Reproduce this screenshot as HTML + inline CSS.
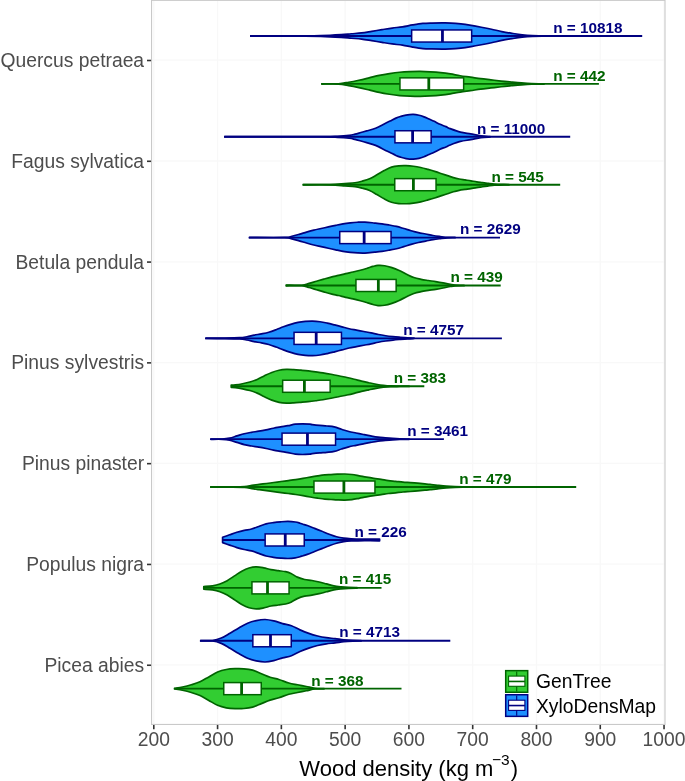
<!DOCTYPE html>
<html><head><meta charset="utf-8"><style>
html,body{margin:0;padding:0;background:#fff;}
svg{display:block;}
text{font-family:"Liberation Sans",Arial,sans-serif;}
.ax{font-size:19.3px;fill:#4d4d4d;}
.n{font-size:15.4px;font-weight:bold;}
.tt{font-size:22px;fill:#000;}
.lg{font-size:19.3px;fill:#000;}
</style></head><body>
<svg width="685" height="781" viewBox="0 0 685 781">
<rect width="685" height="781" fill="#fff"/>
<line x1="153.80" y1="0.35" x2="153.80" y2="724.45" stroke="#f8f8f8" stroke-width="1.3"/>
<line x1="217.58" y1="0.35" x2="217.58" y2="724.45" stroke="#f8f8f8" stroke-width="1.3"/>
<line x1="281.36" y1="0.35" x2="281.36" y2="724.45" stroke="#f8f8f8" stroke-width="1.3"/>
<line x1="345.14" y1="0.35" x2="345.14" y2="724.45" stroke="#f8f8f8" stroke-width="1.3"/>
<line x1="408.92" y1="0.35" x2="408.92" y2="724.45" stroke="#f8f8f8" stroke-width="1.3"/>
<line x1="472.70" y1="0.35" x2="472.70" y2="724.45" stroke="#f8f8f8" stroke-width="1.3"/>
<line x1="536.48" y1="0.35" x2="536.48" y2="724.45" stroke="#f8f8f8" stroke-width="1.3"/>
<line x1="600.26" y1="0.35" x2="600.26" y2="724.45" stroke="#f8f8f8" stroke-width="1.3"/>
<line x1="664.04" y1="0.35" x2="664.04" y2="724.45" stroke="#f8f8f8" stroke-width="1.3"/>
<line x1="151.55" y1="60.20" x2="665.00" y2="60.20" stroke="#f8f8f8" stroke-width="1.3"/>
<line x1="151.55" y1="160.99" x2="665.00" y2="160.99" stroke="#f8f8f8" stroke-width="1.3"/>
<line x1="151.55" y1="261.78" x2="665.00" y2="261.78" stroke="#f8f8f8" stroke-width="1.3"/>
<line x1="151.55" y1="362.57" x2="665.00" y2="362.57" stroke="#f8f8f8" stroke-width="1.3"/>
<line x1="151.55" y1="463.36" x2="665.00" y2="463.36" stroke="#f8f8f8" stroke-width="1.3"/>
<line x1="151.55" y1="564.15" x2="665.00" y2="564.15" stroke="#f8f8f8" stroke-width="1.3"/>
<line x1="151.55" y1="664.94" x2="665.00" y2="664.94" stroke="#f8f8f8" stroke-width="1.3"/>
<path d="M250.90,35.85 C259.08,35.85 288.37,35.88 300.00,35.85 C311.63,35.82 313.85,35.85 320.70,35.65 C327.55,35.45 336.00,34.97 341.10,34.65 C346.20,34.33 347.90,34.03 351.30,33.75 C354.70,33.47 358.10,33.35 361.50,32.95 C364.90,32.55 368.28,31.90 371.70,31.35 C375.12,30.80 378.58,30.20 382.00,29.65 C385.42,29.10 388.80,28.52 392.20,28.05 C395.60,27.58 399.00,27.37 402.40,26.85 C405.80,26.33 409.20,25.52 412.60,24.95 C416.00,24.38 419.57,23.77 422.80,23.45 C426.03,23.13 428.80,23.13 432.00,23.05 C435.20,22.97 438.83,22.95 442.00,22.95 C445.17,22.95 447.85,22.88 451.00,23.05 C454.15,23.22 457.55,23.55 460.90,23.95 C464.25,24.35 467.70,24.90 471.10,25.45 C474.50,26.00 477.90,26.62 481.30,27.25 C484.70,27.88 488.08,28.53 491.50,29.25 C494.92,29.97 498.38,30.87 501.80,31.55 C505.22,32.23 508.60,32.80 512.00,33.35 C515.40,33.90 518.80,34.47 522.20,34.85 C525.60,35.23 528.75,35.48 532.40,35.65 C536.05,35.82 542.15,35.82 544.10,35.85 L544.10,36.15 C542.15,36.18 536.05,36.18 532.40,36.35 C528.75,36.52 525.60,36.77 522.20,37.15 C518.80,37.53 515.40,38.10 512.00,38.65 C508.60,39.20 505.22,39.77 501.80,40.45 C498.38,41.13 494.92,42.03 491.50,42.75 C488.08,43.47 484.70,44.12 481.30,44.75 C477.90,45.38 474.50,46.00 471.10,46.55 C467.70,47.10 464.25,47.65 460.90,48.05 C457.55,48.45 454.15,48.78 451.00,48.95 C447.85,49.12 445.17,49.05 442.00,49.05 C438.83,49.05 435.20,49.03 432.00,48.95 C428.80,48.87 426.03,48.87 422.80,48.55 C419.57,48.23 416.00,47.62 412.60,47.05 C409.20,46.48 405.80,45.67 402.40,45.15 C399.00,44.63 395.60,44.42 392.20,43.95 C388.80,43.48 385.42,42.90 382.00,42.35 C378.58,41.80 375.12,41.20 371.70,40.65 C368.28,40.10 364.90,39.45 361.50,39.05 C358.10,38.65 354.70,38.53 351.30,38.25 C347.90,37.97 346.20,37.67 341.10,37.35 C336.00,37.03 327.55,36.55 320.70,36.35 C313.85,36.15 311.63,36.18 300.00,36.15 C288.37,36.12 259.08,36.15 250.90,36.15 Z" fill="#1E90FF" stroke="#000080" stroke-width="1.70" stroke-linejoin="round"/>
<line x1="250.00" y1="36.00" x2="642.20" y2="36.00" stroke="#000080" stroke-width="1.9"/>
<rect x="411.65" y="29.95" width="60.00" height="12.10" fill="#fff" stroke="#000080" stroke-width="1.50"/>
<line x1="442.45" y1="29.95" x2="442.45" y2="42.05" stroke="#000080" stroke-width="2.8"/>
<text transform="translate(553.20,32.60) scale(0.994,1)" class="n" fill="#000080">n = 10818</text>
<path d="M322.00,83.75 C324.73,83.75 333.95,84.00 338.40,83.75 C342.85,83.50 345.28,82.83 348.70,82.25 C352.12,81.67 355.50,80.98 358.90,80.25 C362.30,79.52 365.70,78.67 369.10,77.85 C372.50,77.03 375.90,76.07 379.30,75.35 C382.70,74.63 386.10,74.07 389.50,73.55 C392.90,73.03 396.28,72.57 399.70,72.25 C403.12,71.93 406.58,71.78 410.00,71.65 C413.42,71.52 416.80,71.42 420.20,71.45 C423.60,71.48 427.00,71.65 430.40,71.85 C433.80,72.05 437.27,72.30 440.60,72.65 C443.93,73.00 447.13,73.43 450.40,73.95 C453.67,74.47 456.87,75.22 460.20,75.75 C463.53,76.28 466.98,76.67 470.40,77.15 C473.82,77.63 477.28,78.20 480.70,78.65 C484.12,79.10 487.50,79.45 490.90,79.85 C494.30,80.25 497.70,80.68 501.10,81.05 C504.50,81.42 507.90,81.73 511.30,82.05 C514.70,82.37 518.10,82.70 521.50,82.95 C524.90,83.20 527.93,83.42 531.70,83.55 C535.47,83.68 542.03,83.72 544.10,83.75 L544.10,84.05 C542.03,84.08 535.47,84.12 531.70,84.25 C527.93,84.38 524.90,84.60 521.50,84.85 C518.10,85.10 514.70,85.43 511.30,85.75 C507.90,86.07 504.50,86.38 501.10,86.75 C497.70,87.12 494.30,87.55 490.90,87.95 C487.50,88.35 484.12,88.70 480.70,89.15 C477.28,89.60 473.82,90.17 470.40,90.65 C466.98,91.13 463.53,91.52 460.20,92.05 C456.87,92.58 453.67,93.33 450.40,93.85 C447.13,94.37 443.93,94.80 440.60,95.15 C437.27,95.50 433.80,95.75 430.40,95.95 C427.00,96.15 423.60,96.32 420.20,96.35 C416.80,96.38 413.42,96.28 410.00,96.15 C406.58,96.02 403.12,95.87 399.70,95.55 C396.28,95.23 392.90,94.77 389.50,94.25 C386.10,93.73 382.70,93.17 379.30,92.45 C375.90,91.73 372.50,90.77 369.10,89.95 C365.70,89.13 362.30,88.28 358.90,87.55 C355.50,86.82 352.12,86.13 348.70,85.55 C345.28,84.97 342.85,84.30 338.40,84.05 C333.95,83.80 324.73,84.05 322.00,84.05 Z" fill="#32CD32" stroke="#006400" stroke-width="1.70" stroke-linejoin="round"/>
<line x1="321.10" y1="83.90" x2="598.90" y2="83.90" stroke="#006400" stroke-width="1.9"/>
<rect x="399.95" y="77.85" width="63.70" height="12.10" fill="#fff" stroke="#006400" stroke-width="1.50"/>
<line x1="428.80" y1="77.85" x2="428.80" y2="89.95" stroke="#006400" stroke-width="2.8"/>
<text transform="translate(553.20,81.00) scale(0.994,1)" class="n" fill="#006400">n = 442</text>
<path d="M224.90,136.64 C240.75,136.64 301.23,136.71 320.00,136.64 C338.77,136.57 332.63,136.46 337.50,136.24 C342.37,136.02 346.28,135.69 349.20,135.34 C352.12,134.99 353.05,134.61 355.00,134.14 C356.95,133.67 358.95,133.07 360.90,132.54 C362.85,132.01 364.75,131.49 366.70,130.94 C368.65,130.39 370.65,129.91 372.60,129.24 C374.55,128.57 376.47,127.82 378.40,126.94 C380.33,126.06 382.25,124.92 384.20,123.94 C386.15,122.96 388.15,122.01 390.10,121.04 C392.05,120.07 394.17,118.91 395.90,118.14 C397.63,117.37 398.82,116.96 400.50,116.44 C402.18,115.92 403.88,115.37 406.00,115.04 C408.12,114.71 411.03,114.41 413.20,114.44 C415.37,114.47 417.20,114.84 419.00,115.24 C420.80,115.64 422.33,116.21 424.00,116.84 C425.67,117.47 427.30,118.29 429.00,119.04 C430.70,119.79 432.37,120.46 434.20,121.34 C436.03,122.22 438.05,123.46 440.00,124.34 C441.95,125.22 444.20,125.92 445.90,126.64 C447.60,127.36 447.78,127.72 450.20,128.64 C452.62,129.56 456.98,131.26 460.40,132.14 C463.82,133.02 467.28,133.32 470.70,133.94 C474.12,134.56 477.67,135.39 480.90,135.84 C484.13,136.29 488.57,136.51 490.10,136.64 L490.10,136.94 C488.57,137.07 484.13,137.29 480.90,137.74 C477.67,138.19 474.12,139.02 470.70,139.64 C467.28,140.26 463.82,140.56 460.40,141.44 C456.98,142.32 452.62,144.02 450.20,144.94 C447.78,145.86 447.60,146.22 445.90,146.94 C444.20,147.66 441.95,148.36 440.00,149.24 C438.05,150.12 436.03,151.36 434.20,152.24 C432.37,153.12 430.70,153.79 429.00,154.54 C427.30,155.29 425.67,156.11 424.00,156.74 C422.33,157.37 420.80,157.94 419.00,158.34 C417.20,158.74 415.37,159.11 413.20,159.14 C411.03,159.17 408.12,158.87 406.00,158.54 C403.88,158.21 402.18,157.66 400.50,157.14 C398.82,156.62 397.63,156.21 395.90,155.44 C394.17,154.67 392.05,153.51 390.10,152.54 C388.15,151.57 386.15,150.62 384.20,149.64 C382.25,148.66 380.33,147.52 378.40,146.64 C376.47,145.76 374.55,145.01 372.60,144.34 C370.65,143.67 368.65,143.19 366.70,142.64 C364.75,142.09 362.85,141.57 360.90,141.04 C358.95,140.51 356.95,139.91 355.00,139.44 C353.05,138.97 352.12,138.59 349.20,138.24 C346.28,137.89 342.37,137.56 337.50,137.34 C332.63,137.12 338.77,137.01 320.00,136.94 C301.23,136.87 240.75,136.94 224.90,136.94 Z" fill="#1E90FF" stroke="#000080" stroke-width="1.70" stroke-linejoin="round"/>
<line x1="224.00" y1="136.79" x2="570.20" y2="136.79" stroke="#000080" stroke-width="1.9"/>
<rect x="394.95" y="130.74" width="36.20" height="12.10" fill="#fff" stroke="#000080" stroke-width="1.50"/>
<line x1="412.60" y1="130.74" x2="412.60" y2="142.84" stroke="#000080" stroke-width="2.8"/>
<text transform="translate(476.90,133.75) scale(0.994,1)" class="n" fill="#000080">n = 11000</text>
<path d="M303.40,184.54 C307.83,184.54 323.07,184.71 330.00,184.54 C336.93,184.37 340.83,183.84 345.00,183.54 C349.17,183.24 352.12,183.14 355.00,182.74 C357.88,182.34 359.87,181.79 362.30,181.14 C364.73,180.49 367.17,179.89 369.60,178.84 C372.03,177.79 374.47,176.22 376.90,174.84 C379.33,173.46 381.77,171.82 384.20,170.54 C386.63,169.26 389.07,167.92 391.50,167.14 C393.93,166.36 396.37,166.09 398.80,165.84 C401.23,165.59 403.67,165.57 406.10,165.64 C408.53,165.71 410.97,165.92 413.40,166.24 C415.83,166.56 418.27,167.01 420.70,167.54 C423.13,168.07 425.53,168.76 428.00,169.44 C430.47,170.12 433.22,170.92 435.50,171.64 C437.78,172.36 439.70,173.07 441.70,173.74 C443.70,174.41 445.55,174.99 447.50,175.64 C449.45,176.29 451.45,177.07 453.40,177.64 C455.35,178.21 457.27,178.66 459.20,179.04 C461.13,179.42 463.05,179.64 465.00,179.94 C466.95,180.24 468.95,180.52 470.90,180.84 C472.85,181.16 474.75,181.54 476.70,181.84 C478.65,182.14 480.65,182.37 482.60,182.64 C484.55,182.91 486.47,183.19 488.40,183.44 C490.33,183.69 492.27,183.99 494.20,184.14 C496.13,184.29 497.52,184.27 500.00,184.34 C502.48,184.41 507.58,184.51 509.10,184.54 L509.10,184.84 C507.58,184.87 502.48,184.97 500.00,185.04 C497.52,185.11 496.13,185.09 494.20,185.24 C492.27,185.39 490.33,185.69 488.40,185.94 C486.47,186.19 484.55,186.47 482.60,186.74 C480.65,187.01 478.65,187.24 476.70,187.54 C474.75,187.84 472.85,188.22 470.90,188.54 C468.95,188.86 466.95,189.14 465.00,189.44 C463.05,189.74 461.13,189.96 459.20,190.34 C457.27,190.72 455.35,191.17 453.40,191.74 C451.45,192.31 449.45,193.09 447.50,193.74 C445.55,194.39 443.70,194.97 441.70,195.64 C439.70,196.31 437.78,197.02 435.50,197.74 C433.22,198.46 430.47,199.26 428.00,199.94 C425.53,200.62 423.13,201.31 420.70,201.84 C418.27,202.37 415.83,202.82 413.40,203.14 C410.97,203.46 408.53,203.67 406.10,203.74 C403.67,203.81 401.23,203.79 398.80,203.54 C396.37,203.29 393.93,203.02 391.50,202.24 C389.07,201.46 386.63,200.12 384.20,198.84 C381.77,197.56 379.33,195.92 376.90,194.54 C374.47,193.16 372.03,191.59 369.60,190.54 C367.17,189.49 364.73,188.89 362.30,188.24 C359.87,187.59 357.88,187.04 355.00,186.64 C352.12,186.24 349.17,186.14 345.00,185.84 C340.83,185.54 336.93,185.01 330.00,184.84 C323.07,184.67 307.83,184.84 303.40,184.84 Z" fill="#32CD32" stroke="#006400" stroke-width="1.70" stroke-linejoin="round"/>
<line x1="302.50" y1="184.69" x2="560.20" y2="184.69" stroke="#006400" stroke-width="1.9"/>
<rect x="394.75" y="178.64" width="41.30" height="12.10" fill="#fff" stroke="#006400" stroke-width="1.50"/>
<line x1="413.40" y1="178.64" x2="413.40" y2="190.74" stroke="#006400" stroke-width="2.8"/>
<text transform="translate(491.40,182.10) scale(0.994,1)" class="n" fill="#006400">n = 545</text>
<path d="M249.60,237.43 C255.43,237.43 277.55,237.63 284.60,237.43 C291.65,237.23 289.47,236.75 291.90,236.23 C294.33,235.71 296.77,235.01 299.20,234.33 C301.63,233.65 304.07,232.83 306.50,232.13 C308.93,231.43 311.37,230.73 313.80,230.13 C316.23,229.53 318.67,229.06 321.10,228.53 C323.53,228.00 325.97,227.46 328.40,226.93 C330.83,226.40 333.27,225.85 335.70,225.33 C338.13,224.81 340.57,224.25 343.00,223.83 C345.43,223.41 347.87,223.10 350.30,222.83 C352.73,222.56 355.17,222.35 357.60,222.23 C360.03,222.11 362.07,222.00 364.90,222.13 C367.73,222.26 371.77,222.75 374.60,223.03 C377.43,223.31 379.47,223.50 381.90,223.83 C384.33,224.16 386.77,224.60 389.20,225.03 C391.63,225.46 394.07,225.85 396.50,226.43 C398.93,227.01 401.37,227.81 403.80,228.53 C406.23,229.25 408.67,230.05 411.10,230.73 C413.53,231.41 415.97,232.08 418.40,232.63 C420.83,233.18 423.27,233.55 425.70,234.03 C428.13,234.51 430.57,235.11 433.00,235.53 C435.43,235.95 437.87,236.23 440.30,236.53 C442.73,236.83 445.13,237.18 447.60,237.33 C450.07,237.48 453.85,237.41 455.10,237.43 L455.10,237.73 C453.85,237.75 450.07,237.68 447.60,237.83 C445.13,237.98 442.73,238.33 440.30,238.63 C437.87,238.93 435.43,239.21 433.00,239.63 C430.57,240.05 428.13,240.65 425.70,241.13 C423.27,241.61 420.83,241.98 418.40,242.53 C415.97,243.08 413.53,243.75 411.10,244.43 C408.67,245.11 406.23,245.91 403.80,246.63 C401.37,247.35 398.93,248.15 396.50,248.73 C394.07,249.31 391.63,249.70 389.20,250.13 C386.77,250.56 384.33,251.00 381.90,251.33 C379.47,251.66 377.43,251.85 374.60,252.13 C371.77,252.41 367.73,252.90 364.90,253.03 C362.07,253.16 360.03,253.05 357.60,252.93 C355.17,252.81 352.73,252.60 350.30,252.33 C347.87,252.06 345.43,251.75 343.00,251.33 C340.57,250.91 338.13,250.35 335.70,249.83 C333.27,249.31 330.83,248.76 328.40,248.23 C325.97,247.70 323.53,247.16 321.10,246.63 C318.67,246.10 316.23,245.63 313.80,245.03 C311.37,244.43 308.93,243.73 306.50,243.03 C304.07,242.33 301.63,241.51 299.20,240.83 C296.77,240.15 294.33,239.45 291.90,238.93 C289.47,238.41 291.65,237.93 284.60,237.73 C277.55,237.53 255.43,237.73 249.60,237.73 Z" fill="#1E90FF" stroke="#000080" stroke-width="1.70" stroke-linejoin="round"/>
<line x1="248.70" y1="237.58" x2="500.00" y2="237.58" stroke="#000080" stroke-width="1.9"/>
<rect x="339.75" y="231.53" width="51.30" height="12.10" fill="#fff" stroke="#000080" stroke-width="1.50"/>
<line x1="364.15" y1="231.53" x2="364.15" y2="243.63" stroke="#000080" stroke-width="2.8"/>
<text transform="translate(460.00,234.10) scale(0.994,1)" class="n" fill="#000080">n = 2629</text>
<path d="M286.40,285.13 C288.98,285.16 298.10,285.61 301.90,285.33 C305.70,285.05 306.77,284.11 309.20,283.43 C311.63,282.75 314.07,281.95 316.50,281.23 C318.93,280.51 321.37,279.81 323.80,279.13 C326.23,278.45 328.67,277.75 331.10,277.13 C333.53,276.51 335.97,276.01 338.40,275.43 C340.83,274.85 343.27,274.20 345.70,273.63 C348.13,273.06 350.57,272.60 353.00,272.03 C355.43,271.46 357.87,270.88 360.30,270.23 C362.73,269.58 365.48,268.76 367.60,268.13 C369.72,267.50 371.27,266.88 373.00,266.43 C374.73,265.98 376.07,265.55 378.00,265.43 C379.93,265.31 382.28,265.36 384.60,265.73 C386.92,266.10 389.47,266.83 391.90,267.63 C394.33,268.43 396.77,269.43 399.20,270.53 C401.63,271.63 404.07,273.06 406.50,274.23 C408.93,275.40 411.37,276.68 413.80,277.53 C416.23,278.38 418.67,278.83 421.10,279.33 C423.53,279.83 425.97,280.15 428.40,280.53 C430.83,280.91 433.27,281.23 435.70,281.63 C438.13,282.03 440.57,282.46 443.00,282.93 C445.43,283.40 448.30,284.06 450.30,284.43 C452.30,284.80 452.70,284.98 455.00,285.13 C457.30,285.28 462.58,285.30 464.10,285.33 L464.10,285.63 C462.58,285.66 457.30,285.68 455.00,285.83 C452.70,285.98 452.30,286.16 450.30,286.53 C448.30,286.90 445.43,287.56 443.00,288.03 C440.57,288.50 438.13,288.93 435.70,289.33 C433.27,289.73 430.83,290.05 428.40,290.43 C425.97,290.81 423.53,291.13 421.10,291.63 C418.67,292.13 416.23,292.58 413.80,293.43 C411.37,294.28 408.93,295.56 406.50,296.73 C404.07,297.90 401.63,299.33 399.20,300.43 C396.77,301.53 394.33,302.53 391.90,303.33 C389.47,304.13 386.92,304.86 384.60,305.23 C382.28,305.60 379.93,305.65 378.00,305.53 C376.07,305.41 374.73,304.98 373.00,304.53 C371.27,304.08 369.72,303.46 367.60,302.83 C365.48,302.20 362.73,301.38 360.30,300.73 C357.87,300.08 355.43,299.50 353.00,298.93 C350.57,298.36 348.13,297.90 345.70,297.33 C343.27,296.76 340.83,296.11 338.40,295.53 C335.97,294.95 333.53,294.45 331.10,293.83 C328.67,293.21 326.23,292.51 323.80,291.83 C321.37,291.15 318.93,290.45 316.50,289.73 C314.07,289.01 311.63,288.21 309.20,287.53 C306.77,286.85 305.70,285.91 301.90,285.63 C298.10,285.35 288.98,285.80 286.40,285.83 Z" fill="#32CD32" stroke="#006400" stroke-width="1.70" stroke-linejoin="round"/>
<line x1="285.50" y1="285.48" x2="500.70" y2="285.48" stroke="#006400" stroke-width="1.9"/>
<rect x="355.95" y="279.43" width="40.20" height="12.10" fill="#fff" stroke="#006400" stroke-width="1.50"/>
<line x1="378.35" y1="279.43" x2="378.35" y2="291.53" stroke="#006400" stroke-width="2.8"/>
<text transform="translate(450.40,282.10) scale(0.994,1)" class="n" fill="#006400">n = 439</text>
<path d="M206.00,338.22 C209.17,338.20 219.40,338.20 225.00,338.12 C230.60,338.04 235.95,337.95 239.60,337.72 C243.25,337.49 244.47,337.15 246.90,336.72 C249.33,336.29 251.77,335.60 254.20,335.12 C256.63,334.64 259.07,334.30 261.50,333.82 C263.93,333.34 266.37,332.90 268.80,332.22 C271.23,331.54 273.67,330.62 276.10,329.72 C278.53,328.82 280.97,327.72 283.40,326.82 C285.83,325.92 288.27,325.05 290.70,324.32 C293.13,323.59 295.57,322.90 298.00,322.42 C300.43,321.94 302.87,321.64 305.30,321.42 C307.73,321.20 310.15,321.07 312.60,321.12 C315.05,321.17 317.55,321.39 320.00,321.72 C322.45,322.05 324.87,322.59 327.30,323.12 C329.73,323.65 332.17,324.30 334.60,324.92 C337.03,325.54 339.47,326.19 341.90,326.82 C344.33,327.45 346.77,328.17 349.20,328.72 C351.63,329.27 354.07,329.65 356.50,330.12 C358.93,330.59 361.37,331.05 363.80,331.52 C366.23,331.99 368.67,332.42 371.10,332.92 C373.53,333.42 375.97,334.05 378.40,334.52 C380.83,334.99 383.27,335.37 385.70,335.72 C388.13,336.07 390.57,336.35 393.00,336.62 C395.43,336.89 397.87,337.10 400.30,337.32 C402.73,337.54 405.30,337.77 407.60,337.92 C409.90,338.07 413.02,338.17 414.10,338.22 L414.10,338.52 C413.02,338.57 409.90,338.67 407.60,338.82 C405.30,338.97 402.73,339.20 400.30,339.42 C397.87,339.64 395.43,339.85 393.00,340.12 C390.57,340.39 388.13,340.67 385.70,341.02 C383.27,341.37 380.83,341.75 378.40,342.22 C375.97,342.69 373.53,343.32 371.10,343.82 C368.67,344.32 366.23,344.75 363.80,345.22 C361.37,345.69 358.93,346.15 356.50,346.62 C354.07,347.09 351.63,347.47 349.20,348.02 C346.77,348.57 344.33,349.29 341.90,349.92 C339.47,350.55 337.03,351.20 334.60,351.82 C332.17,352.44 329.73,353.09 327.30,353.62 C324.87,354.15 322.45,354.69 320.00,355.02 C317.55,355.35 315.05,355.57 312.60,355.62 C310.15,355.67 307.73,355.54 305.30,355.32 C302.87,355.10 300.43,354.80 298.00,354.32 C295.57,353.84 293.13,353.15 290.70,352.42 C288.27,351.69 285.83,350.82 283.40,349.92 C280.97,349.02 278.53,347.92 276.10,347.02 C273.67,346.12 271.23,345.20 268.80,344.52 C266.37,343.84 263.93,343.40 261.50,342.92 C259.07,342.44 256.63,342.10 254.20,341.62 C251.77,341.14 249.33,340.45 246.90,340.02 C244.47,339.59 243.25,339.25 239.60,339.02 C235.95,338.79 230.60,338.70 225.00,338.62 C219.40,338.54 209.17,338.54 206.00,338.52 Z" fill="#1E90FF" stroke="#000080" stroke-width="1.70" stroke-linejoin="round"/>
<line x1="205.10" y1="338.37" x2="501.90" y2="338.37" stroke="#000080" stroke-width="1.9"/>
<rect x="294.05" y="332.32" width="47.40" height="12.10" fill="#fff" stroke="#000080" stroke-width="1.50"/>
<line x1="316.20" y1="332.32" x2="316.20" y2="344.42" stroke="#000080" stroke-width="2.8"/>
<text transform="translate(403.20,335.10) scale(0.994,1)" class="n" fill="#000080">n = 4757</text>
<path d="M231.20,385.22 C231.88,385.17 233.40,385.17 235.30,384.92 C237.20,384.67 240.17,384.20 242.60,383.72 C245.03,383.24 247.47,382.74 249.90,382.02 C252.33,381.30 254.77,380.47 257.20,379.42 C259.63,378.37 262.07,376.89 264.50,375.72 C266.93,374.55 269.37,373.34 271.80,372.42 C274.23,371.50 276.67,370.72 279.10,370.22 C281.53,369.72 283.97,369.52 286.40,369.42 C288.83,369.32 291.27,369.49 293.70,369.62 C296.13,369.75 298.57,370.00 301.00,370.22 C303.43,370.44 305.87,370.65 308.30,370.92 C310.73,371.19 313.17,371.50 315.60,371.82 C318.03,372.14 320.12,372.37 322.90,372.82 C325.68,373.27 329.52,373.99 332.30,374.52 C335.08,375.05 337.17,375.52 339.60,376.02 C342.03,376.52 344.47,376.99 346.90,377.52 C349.33,378.05 351.77,378.62 354.20,379.22 C356.63,379.82 359.07,380.54 361.50,381.12 C363.93,381.70 366.37,382.20 368.80,382.72 C371.23,383.24 373.67,383.79 376.10,384.22 C378.53,384.65 380.97,385.04 383.40,385.32 C385.83,385.60 387.93,385.80 390.70,385.92 C393.47,386.04 396.93,385.99 400.00,386.02 C403.07,386.05 407.58,386.10 409.10,386.12 L409.10,386.42 C407.58,386.44 403.07,386.49 400.00,386.52 C396.93,386.55 393.47,386.50 390.70,386.62 C387.93,386.74 385.83,386.94 383.40,387.22 C380.97,387.50 378.53,387.89 376.10,388.32 C373.67,388.75 371.23,389.30 368.80,389.82 C366.37,390.34 363.93,390.84 361.50,391.42 C359.07,392.00 356.63,392.72 354.20,393.32 C351.77,393.92 349.33,394.49 346.90,395.02 C344.47,395.55 342.03,396.02 339.60,396.52 C337.17,397.02 335.08,397.49 332.30,398.02 C329.52,398.55 325.68,399.27 322.90,399.72 C320.12,400.17 318.03,400.40 315.60,400.72 C313.17,401.04 310.73,401.35 308.30,401.62 C305.87,401.89 303.43,402.10 301.00,402.32 C298.57,402.54 296.13,402.79 293.70,402.92 C291.27,403.05 288.83,403.22 286.40,403.12 C283.97,403.02 281.53,402.82 279.10,402.32 C276.67,401.82 274.23,401.04 271.80,400.12 C269.37,399.20 266.93,397.99 264.50,396.82 C262.07,395.65 259.63,394.17 257.20,393.12 C254.77,392.07 252.33,391.24 249.90,390.52 C247.47,389.80 245.03,389.30 242.60,388.82 C240.17,388.34 237.20,387.87 235.30,387.62 C233.40,387.37 231.88,387.37 231.20,387.32 Z" fill="#32CD32" stroke="#006400" stroke-width="1.70" stroke-linejoin="round"/>
<line x1="231.20" y1="386.27" x2="424.30" y2="386.27" stroke="#006400" stroke-width="1.9"/>
<rect x="282.65" y="380.22" width="47.50" height="12.10" fill="#fff" stroke="#006400" stroke-width="1.50"/>
<line x1="304.40" y1="380.22" x2="304.40" y2="392.32" stroke="#006400" stroke-width="2.8"/>
<text transform="translate(393.70,383.40) scale(0.994,1)" class="n" fill="#006400">n = 383</text>
<path d="M211.00,439.01 C212.88,439.01 219.20,439.16 222.30,439.01 C225.40,438.86 227.17,438.63 229.60,438.11 C232.03,437.59 234.47,436.64 236.90,435.91 C239.33,435.18 241.77,434.31 244.20,433.71 C246.63,433.11 249.07,432.73 251.50,432.31 C253.93,431.89 256.37,431.63 258.80,431.21 C261.23,430.79 263.67,430.31 266.10,429.81 C268.53,429.31 270.97,428.69 273.40,428.21 C275.83,427.73 278.27,427.33 280.70,426.91 C283.13,426.49 285.57,426.16 288.00,425.71 C290.43,425.26 292.87,424.53 295.30,424.21 C297.73,423.89 300.17,423.81 302.60,423.81 C305.03,423.81 308.28,424.08 309.90,424.21 C311.52,424.34 310.68,424.41 312.30,424.61 C313.92,424.81 317.17,425.18 319.60,425.41 C322.03,425.64 324.47,425.76 326.90,426.01 C329.33,426.26 331.77,426.36 334.20,426.91 C336.63,427.46 339.07,428.54 341.50,429.31 C343.93,430.08 346.37,430.89 348.80,431.51 C351.23,432.13 353.67,432.51 356.10,433.01 C358.53,433.51 360.97,434.03 363.40,434.51 C365.83,434.99 368.27,435.48 370.70,435.91 C373.13,436.34 375.57,436.79 378.00,437.11 C380.43,437.43 382.87,437.59 385.30,437.81 C387.73,438.03 390.17,438.24 392.60,438.41 C395.03,438.58 397.15,438.71 399.90,438.81 C402.65,438.91 407.57,438.98 409.10,439.01 L409.10,439.31 C407.57,439.34 402.65,439.41 399.90,439.51 C397.15,439.61 395.03,439.74 392.60,439.91 C390.17,440.08 387.73,440.29 385.30,440.51 C382.87,440.73 380.43,440.89 378.00,441.21 C375.57,441.53 373.13,441.98 370.70,442.41 C368.27,442.84 365.83,443.33 363.40,443.81 C360.97,444.29 358.53,444.81 356.10,445.31 C353.67,445.81 351.23,446.19 348.80,446.81 C346.37,447.43 343.93,448.24 341.50,449.01 C339.07,449.78 336.63,450.86 334.20,451.41 C331.77,451.96 329.33,452.06 326.90,452.31 C324.47,452.56 322.03,452.68 319.60,452.91 C317.17,453.14 313.92,453.51 312.30,453.71 C310.68,453.91 311.52,453.98 309.90,454.11 C308.28,454.24 305.03,454.51 302.60,454.51 C300.17,454.51 297.73,454.43 295.30,454.11 C292.87,453.79 290.43,453.06 288.00,452.61 C285.57,452.16 283.13,451.83 280.70,451.41 C278.27,450.99 275.83,450.59 273.40,450.11 C270.97,449.63 268.53,449.01 266.10,448.51 C263.67,448.01 261.23,447.53 258.80,447.11 C256.37,446.69 253.93,446.43 251.50,446.01 C249.07,445.59 246.63,445.21 244.20,444.61 C241.77,444.01 239.33,443.14 236.90,442.41 C234.47,441.68 232.03,440.73 229.60,440.21 C227.17,439.69 225.40,439.46 222.30,439.31 C219.20,439.16 212.88,439.31 211.00,439.31 Z" fill="#1E90FF" stroke="#000080" stroke-width="1.70" stroke-linejoin="round"/>
<line x1="210.10" y1="439.16" x2="443.90" y2="439.16" stroke="#000080" stroke-width="1.9"/>
<rect x="282.05" y="433.11" width="53.50" height="12.10" fill="#fff" stroke="#000080" stroke-width="1.50"/>
<line x1="307.45" y1="433.11" x2="307.45" y2="445.21" stroke="#000080" stroke-width="2.8"/>
<text transform="translate(407.20,435.90) scale(0.994,1)" class="n" fill="#000080">n = 3461</text>
<path d="M211.00,486.91 C214.17,486.91 224.40,486.96 230.00,486.91 C235.60,486.86 240.95,486.86 244.60,486.61 C248.25,486.36 249.47,485.78 251.90,485.41 C254.33,485.04 256.77,484.73 259.20,484.41 C261.63,484.09 264.07,483.83 266.50,483.51 C268.93,483.19 271.37,482.84 273.80,482.51 C276.23,482.18 278.67,481.83 281.10,481.51 C283.53,481.19 285.97,480.93 288.40,480.61 C290.83,480.29 293.27,479.98 295.70,479.61 C298.13,479.24 300.57,478.83 303.00,478.41 C305.43,477.99 307.87,477.53 310.30,477.11 C312.73,476.69 315.17,476.28 317.60,475.91 C320.03,475.54 322.67,475.13 324.90,474.91 C327.13,474.69 328.93,474.73 331.00,474.61 C333.07,474.49 335.03,474.31 337.30,474.21 C339.57,474.11 342.17,473.96 344.60,474.01 C347.03,474.06 349.47,474.21 351.90,474.51 C354.33,474.81 356.77,475.36 359.20,475.81 C361.63,476.26 364.07,476.78 366.50,477.21 C368.93,477.64 371.37,478.04 373.80,478.41 C376.23,478.78 378.67,479.04 381.10,479.41 C383.53,479.78 385.97,480.29 388.40,480.61 C390.83,480.93 393.27,481.06 395.70,481.31 C398.13,481.56 400.57,481.89 403.00,482.11 C405.43,482.33 407.87,482.43 410.30,482.61 C412.73,482.79 415.17,482.99 417.60,483.21 C420.03,483.43 422.83,483.71 424.90,483.91 C426.97,484.11 427.90,484.18 430.00,484.41 C432.10,484.64 434.78,485.01 437.50,485.31 C440.22,485.61 443.38,485.98 446.30,486.21 C449.22,486.44 452.03,486.59 455.00,486.71 C457.97,486.83 462.58,486.88 464.10,486.91 L464.10,487.21 C462.58,487.24 457.97,487.29 455.00,487.41 C452.03,487.53 449.22,487.68 446.30,487.91 C443.38,488.14 440.22,488.51 437.50,488.81 C434.78,489.11 432.10,489.48 430.00,489.71 C427.90,489.94 426.97,490.01 424.90,490.21 C422.83,490.41 420.03,490.69 417.60,490.91 C415.17,491.13 412.73,491.33 410.30,491.51 C407.87,491.69 405.43,491.79 403.00,492.01 C400.57,492.23 398.13,492.56 395.70,492.81 C393.27,493.06 390.83,493.19 388.40,493.51 C385.97,493.83 383.53,494.34 381.10,494.71 C378.67,495.08 376.23,495.34 373.80,495.71 C371.37,496.08 368.93,496.48 366.50,496.91 C364.07,497.34 361.63,497.86 359.20,498.31 C356.77,498.76 354.33,499.31 351.90,499.61 C349.47,499.91 347.03,500.06 344.60,500.11 C342.17,500.16 339.57,500.01 337.30,499.91 C335.03,499.81 333.07,499.63 331.00,499.51 C328.93,499.39 327.13,499.43 324.90,499.21 C322.67,498.99 320.03,498.58 317.60,498.21 C315.17,497.84 312.73,497.43 310.30,497.01 C307.87,496.59 305.43,496.13 303.00,495.71 C300.57,495.29 298.13,494.88 295.70,494.51 C293.27,494.14 290.83,493.83 288.40,493.51 C285.97,493.19 283.53,492.93 281.10,492.61 C278.67,492.29 276.23,491.94 273.80,491.61 C271.37,491.28 268.93,490.93 266.50,490.61 C264.07,490.29 261.63,490.03 259.20,489.71 C256.77,489.39 254.33,489.08 251.90,488.71 C249.47,488.34 248.25,487.76 244.60,487.51 C240.95,487.26 235.60,487.26 230.00,487.21 C224.40,487.16 214.17,487.21 211.00,487.21 Z" fill="#32CD32" stroke="#006400" stroke-width="1.70" stroke-linejoin="round"/>
<line x1="210.10" y1="487.06" x2="576.20" y2="487.06" stroke="#006400" stroke-width="1.9"/>
<rect x="313.95" y="481.01" width="61.00" height="12.10" fill="#fff" stroke="#006400" stroke-width="1.50"/>
<line x1="343.90" y1="481.01" x2="343.90" y2="493.11" stroke="#006400" stroke-width="2.8"/>
<text transform="translate(459.20,484.10) scale(0.994,1)" class="n" fill="#006400">n = 479</text>
<path d="M222.60,537.30 C223.77,536.88 227.22,535.63 229.60,534.80 C231.98,533.97 234.47,533.03 236.90,532.30 C239.33,531.57 241.77,530.95 244.20,530.40 C246.63,529.85 249.07,529.65 251.50,529.00 C253.93,528.35 256.37,527.35 258.80,526.50 C261.23,525.65 263.67,524.55 266.10,523.90 C268.53,523.25 270.97,522.95 273.40,522.60 C275.83,522.25 278.27,522.00 280.70,521.80 C283.13,521.60 285.57,521.37 288.00,521.40 C290.43,521.43 293.30,521.70 295.30,522.00 C297.30,522.30 298.72,522.83 300.00,523.20 C301.28,523.57 301.78,523.82 303.00,524.20 C304.22,524.58 305.37,524.80 307.30,525.50 C309.23,526.20 312.17,527.43 314.60,528.40 C317.03,529.37 319.47,530.33 321.90,531.30 C324.33,532.27 326.77,533.30 329.20,534.20 C331.63,535.10 334.07,536.03 336.50,536.70 C338.93,537.37 341.37,537.83 343.80,538.20 C346.23,538.57 348.73,538.75 351.10,538.90 C353.47,539.05 354.85,539.05 358.00,539.10 C361.15,539.15 366.40,539.20 370.00,539.20 C373.60,539.20 378.00,539.12 379.60,539.10 L379.60,540.80 C378.00,540.78 373.60,540.70 370.00,540.70 C366.40,540.70 361.15,540.75 358.00,540.80 C354.85,540.85 353.47,540.85 351.10,541.00 C348.73,541.15 346.23,541.33 343.80,541.70 C341.37,542.07 338.93,542.53 336.50,543.20 C334.07,543.87 331.63,544.80 329.20,545.70 C326.77,546.60 324.33,547.63 321.90,548.60 C319.47,549.57 317.03,550.53 314.60,551.50 C312.17,552.47 309.23,553.70 307.30,554.40 C305.37,555.10 304.22,555.32 303.00,555.70 C301.78,556.08 301.28,556.33 300.00,556.70 C298.72,557.07 297.30,557.60 295.30,557.90 C293.30,558.20 290.43,558.47 288.00,558.50 C285.57,558.53 283.13,558.30 280.70,558.10 C278.27,557.90 275.83,557.65 273.40,557.30 C270.97,556.95 268.53,556.65 266.10,556.00 C263.67,555.35 261.23,554.25 258.80,553.40 C256.37,552.55 253.93,551.55 251.50,550.90 C249.07,550.25 246.63,550.05 244.20,549.50 C241.77,548.95 239.33,548.33 236.90,547.60 C234.47,546.87 231.98,545.93 229.60,545.10 C227.22,544.27 223.77,543.02 222.60,542.60 Z" fill="#1E90FF" stroke="#000080" stroke-width="1.70" stroke-linejoin="round"/>
<line x1="222.60" y1="539.95" x2="379.70" y2="539.95" stroke="#000080" stroke-width="1.9"/>
<rect x="265.15" y="533.90" width="39.10" height="12.10" fill="#fff" stroke="#000080" stroke-width="1.50"/>
<line x1="285.25" y1="533.90" x2="285.25" y2="546.00" stroke="#000080" stroke-width="2.8"/>
<text transform="translate(354.40,536.90) scale(0.994,1)" class="n" fill="#000080">n = 226</text>
<path d="M203.80,586.50 C205.27,586.38 209.92,586.22 212.60,585.80 C215.28,585.38 217.47,584.85 219.90,584.00 C222.33,583.15 224.77,582.05 227.20,580.70 C229.63,579.35 232.07,577.48 234.50,575.90 C236.93,574.32 239.37,572.52 241.80,571.20 C244.23,569.88 246.67,568.73 249.10,568.00 C251.53,567.27 253.97,566.83 256.40,566.80 C258.83,566.77 261.27,567.32 263.70,567.80 C266.13,568.28 268.57,569.22 271.00,569.70 C273.43,570.18 275.87,570.37 278.30,570.70 C280.73,571.03 283.48,571.23 285.60,571.70 C287.72,572.17 289.05,572.60 291.00,573.50 C292.95,574.40 295.03,576.10 297.30,577.10 C299.57,578.10 302.17,578.93 304.60,579.50 C307.03,580.07 309.47,580.08 311.90,580.50 C314.33,580.92 316.77,581.43 319.20,582.00 C321.63,582.57 324.07,583.27 326.50,583.90 C328.93,584.53 331.37,585.32 333.80,585.80 C336.23,586.28 338.67,586.53 341.10,586.80 C343.53,587.07 345.73,587.27 348.40,587.40 C351.07,587.53 355.65,587.57 357.10,587.60 L357.10,588.10 C355.65,588.13 351.07,588.17 348.40,588.30 C345.73,588.43 343.53,588.63 341.10,588.90 C338.67,589.17 336.23,589.42 333.80,589.90 C331.37,590.38 328.93,591.17 326.50,591.80 C324.07,592.43 321.63,593.13 319.20,593.70 C316.77,594.27 314.33,594.78 311.90,595.20 C309.47,595.62 307.03,595.63 304.60,596.20 C302.17,596.77 299.57,597.60 297.30,598.60 C295.03,599.60 292.95,601.30 291.00,602.20 C289.05,603.10 287.72,603.53 285.60,604.00 C283.48,604.47 280.73,604.67 278.30,605.00 C275.87,605.33 273.43,605.52 271.00,606.00 C268.57,606.48 266.13,607.42 263.70,607.90 C261.27,608.38 258.83,608.93 256.40,608.90 C253.97,608.87 251.53,608.43 249.10,607.70 C246.67,606.97 244.23,605.82 241.80,604.50 C239.37,603.18 236.93,601.38 234.50,599.80 C232.07,598.22 229.63,596.35 227.20,595.00 C224.77,593.65 222.33,592.55 219.90,591.70 C217.47,590.85 215.28,590.32 212.60,589.90 C209.92,589.48 205.27,589.32 203.80,589.20 Z" fill="#32CD32" stroke="#006400" stroke-width="1.70" stroke-linejoin="round"/>
<line x1="203.80" y1="587.85" x2="381.50" y2="587.85" stroke="#006400" stroke-width="1.9"/>
<rect x="251.95" y="581.80" width="37.10" height="12.10" fill="#fff" stroke="#006400" stroke-width="1.50"/>
<line x1="267.50" y1="581.80" x2="267.50" y2="593.90" stroke="#006400" stroke-width="2.8"/>
<text transform="translate(338.90,584.10) scale(0.994,1)" class="n" fill="#006400">n = 415</text>
<path d="M200.80,640.59 C202.75,640.57 209.08,640.91 212.50,640.49 C215.92,640.07 218.38,639.31 221.30,638.09 C224.22,636.87 227.08,634.89 230.00,633.19 C232.92,631.49 235.87,629.56 238.80,627.89 C241.73,626.22 244.68,624.41 247.60,623.19 C250.52,621.97 253.38,621.21 256.30,620.59 C259.22,619.97 262.18,619.44 265.10,619.49 C268.02,619.54 270.88,620.21 273.80,620.89 C276.72,621.57 279.67,622.77 282.60,623.59 C285.53,624.41 288.50,624.74 291.40,625.79 C294.30,626.84 297.10,628.62 300.00,629.89 C302.90,631.16 305.87,632.37 308.80,633.39 C311.73,634.41 314.68,635.27 317.60,635.99 C320.52,636.71 323.38,637.26 326.30,637.69 C329.22,638.12 332.18,638.24 335.10,638.59 C338.02,638.94 340.88,639.49 343.80,639.79 C346.72,640.09 349.72,640.26 352.60,640.39 C355.48,640.52 359.68,640.56 361.10,640.59 L361.10,640.89 C359.68,640.92 355.48,640.96 352.60,641.09 C349.72,641.22 346.72,641.39 343.80,641.69 C340.88,641.99 338.02,642.54 335.10,642.89 C332.18,643.24 329.22,643.36 326.30,643.79 C323.38,644.22 320.52,644.77 317.60,645.49 C314.68,646.21 311.73,647.07 308.80,648.09 C305.87,649.11 302.90,650.32 300.00,651.59 C297.10,652.86 294.30,654.64 291.40,655.69 C288.50,656.74 285.53,657.07 282.60,657.89 C279.67,658.71 276.72,659.91 273.80,660.59 C270.88,661.27 268.02,661.94 265.10,661.99 C262.18,662.04 259.22,661.51 256.30,660.89 C253.38,660.27 250.52,659.51 247.60,658.29 C244.68,657.07 241.73,655.26 238.80,653.59 C235.87,651.92 232.92,649.99 230.00,648.29 C227.08,646.59 224.22,644.61 221.30,643.39 C218.38,642.17 215.92,641.41 212.50,640.99 C209.08,640.57 202.75,640.91 200.80,640.89 Z" fill="#1E90FF" stroke="#000080" stroke-width="1.70" stroke-linejoin="round"/>
<line x1="199.90" y1="640.74" x2="450.30" y2="640.74" stroke="#000080" stroke-width="1.9"/>
<rect x="252.85" y="634.69" width="38.40" height="12.10" fill="#fff" stroke="#000080" stroke-width="1.50"/>
<line x1="270.50" y1="634.69" x2="270.50" y2="646.79" stroke="#000080" stroke-width="2.8"/>
<text transform="translate(339.20,637.20) scale(0.994,1)" class="n" fill="#000080">n = 4713</text>
<path d="M174.70,688.29 C176.00,688.07 179.73,687.57 182.50,686.99 C185.27,686.41 188.38,685.66 191.30,684.79 C194.22,683.92 197.08,683.11 200.00,681.79 C202.92,680.47 205.87,678.52 208.80,676.89 C211.73,675.26 214.68,673.22 217.60,671.99 C220.52,670.76 223.38,670.04 226.30,669.49 C229.22,668.94 232.18,668.81 235.10,668.69 C238.02,668.57 240.88,668.54 243.80,668.79 C246.72,669.04 249.67,669.37 252.60,670.19 C255.53,671.01 258.48,672.52 261.40,673.69 C264.32,674.86 267.18,676.22 270.10,677.19 C273.02,678.16 275.78,678.52 278.90,679.49 C282.02,680.46 285.70,682.11 288.80,682.99 C291.90,683.87 294.58,684.21 297.50,684.79 C300.42,685.37 303.38,685.91 306.30,686.49 C309.22,687.07 312.03,687.96 315.00,688.29 C317.97,688.62 322.58,688.46 324.10,688.49 L324.10,688.79 C322.58,688.82 317.97,688.66 315.00,688.99 C312.03,689.32 309.22,690.21 306.30,690.79 C303.38,691.37 300.42,691.91 297.50,692.49 C294.58,693.07 291.90,693.41 288.80,694.29 C285.70,695.17 282.02,696.82 278.90,697.79 C275.78,698.76 273.02,699.12 270.10,700.09 C267.18,701.06 264.32,702.42 261.40,703.59 C258.48,704.76 255.53,706.27 252.60,707.09 C249.67,707.91 246.72,708.24 243.80,708.49 C240.88,708.74 238.02,708.71 235.10,708.59 C232.18,708.47 229.22,708.34 226.30,707.79 C223.38,707.24 220.52,706.52 217.60,705.29 C214.68,704.06 211.73,702.02 208.80,700.39 C205.87,698.76 202.92,696.81 200.00,695.49 C197.08,694.17 194.22,693.36 191.30,692.49 C188.38,691.62 185.27,690.87 182.50,690.29 C179.73,689.71 176.00,689.21 174.70,688.99 Z" fill="#32CD32" stroke="#006400" stroke-width="1.70" stroke-linejoin="round"/>
<line x1="173.80" y1="688.64" x2="401.50" y2="688.64" stroke="#006400" stroke-width="1.9"/>
<rect x="223.75" y="682.59" width="37.50" height="12.10" fill="#fff" stroke="#006400" stroke-width="1.50"/>
<line x1="241.60" y1="682.59" x2="241.60" y2="694.69" stroke="#006400" stroke-width="2.8"/>
<text transform="translate(311.20,685.80) scale(0.994,1)" class="n" fill="#006400">n = 368</text>
<rect x="151.55" y="0.35" width="513.45" height="724.10" fill="none" stroke="#c9c9c9" stroke-width="1.1"/>
<line x1="147" y1="60.50" x2="151.05" y2="60.50" stroke="#333" stroke-width="1.6"/>
<text transform="translate(144.1,67.10) scale(1.000,1)" class="ax" text-anchor="end">Quercus petraea</text>
<line x1="147" y1="161.29" x2="151.05" y2="161.29" stroke="#333" stroke-width="1.6"/>
<text transform="translate(144.1,167.89) scale(1.000,1)" class="ax" text-anchor="end">Fagus sylvatica</text>
<line x1="147" y1="262.08" x2="151.05" y2="262.08" stroke="#333" stroke-width="1.6"/>
<text transform="translate(144.1,268.68) scale(1.000,1)" class="ax" text-anchor="end">Betula pendula</text>
<line x1="147" y1="362.87" x2="151.05" y2="362.87" stroke="#333" stroke-width="1.6"/>
<text transform="translate(144.1,369.47) scale(1.000,1)" class="ax" text-anchor="end">Pinus sylvestris</text>
<line x1="147" y1="463.66" x2="151.05" y2="463.66" stroke="#333" stroke-width="1.6"/>
<text transform="translate(144.1,470.26) scale(1.000,1)" class="ax" text-anchor="end">Pinus pinaster</text>
<line x1="147" y1="564.45" x2="151.05" y2="564.45" stroke="#333" stroke-width="1.6"/>
<text transform="translate(144.1,571.05) scale(1.000,1)" class="ax" text-anchor="end">Populus nigra</text>
<line x1="147" y1="665.24" x2="151.05" y2="665.24" stroke="#333" stroke-width="1.6"/>
<text transform="translate(144.1,671.84) scale(1.000,1)" class="ax" text-anchor="end">Picea abies</text>
<line x1="153.80" y1="724.95" x2="153.80" y2="729.2" stroke="#333" stroke-width="1.6"/>
<text x="153.80" y="746.2" class="ax" text-anchor="middle">200</text>
<line x1="217.58" y1="724.95" x2="217.58" y2="729.2" stroke="#333" stroke-width="1.6"/>
<text x="217.58" y="746.2" class="ax" text-anchor="middle">300</text>
<line x1="281.36" y1="724.95" x2="281.36" y2="729.2" stroke="#333" stroke-width="1.6"/>
<text x="281.36" y="746.2" class="ax" text-anchor="middle">400</text>
<line x1="345.14" y1="724.95" x2="345.14" y2="729.2" stroke="#333" stroke-width="1.6"/>
<text x="345.14" y="746.2" class="ax" text-anchor="middle">500</text>
<line x1="408.92" y1="724.95" x2="408.92" y2="729.2" stroke="#333" stroke-width="1.6"/>
<text x="408.92" y="746.2" class="ax" text-anchor="middle">600</text>
<line x1="472.70" y1="724.95" x2="472.70" y2="729.2" stroke="#333" stroke-width="1.6"/>
<text x="472.70" y="746.2" class="ax" text-anchor="middle">700</text>
<line x1="536.48" y1="724.95" x2="536.48" y2="729.2" stroke="#333" stroke-width="1.6"/>
<text x="536.48" y="746.2" class="ax" text-anchor="middle">800</text>
<line x1="600.26" y1="724.95" x2="600.26" y2="729.2" stroke="#333" stroke-width="1.6"/>
<text x="600.26" y="746.2" class="ax" text-anchor="middle">900</text>
<line x1="664.04" y1="724.95" x2="664.04" y2="729.2" stroke="#333" stroke-width="1.6"/>
<text x="664.04" y="746.2" class="ax" text-anchor="middle">1000</text>
<text x="299.3" y="775.6" class="tt">Wood density (kg m<tspan dx="-1.3" dy="-11" font-size="15.5">−3</tspan><tspan dx="1.0" dy="11">)</tspan></text>
<rect x="505.7" y="670.65" width="22.0" height="21.6" fill="#32CD32" stroke="#006400" stroke-width="1.5"/>
<line x1="516.7" y1="671.40" x2="516.7" y2="691.60" stroke="#006400" stroke-width="1.1"/>
<rect x="508.6" y="676.10" width="16.3" height="10.2" fill="#fff" stroke="#006400" stroke-width="1.1"/>
<line x1="508.6" y1="681.45" x2="524.9" y2="681.45" stroke="#006400" stroke-width="1.6"/>
<rect x="505.7" y="694.75" width="22.0" height="21.6" fill="#1E90FF" stroke="#000080" stroke-width="1.5"/>
<line x1="516.7" y1="695.50" x2="516.7" y2="715.70" stroke="#000080" stroke-width="1.1"/>
<rect x="508.6" y="700.20" width="16.3" height="10.2" fill="#fff" stroke="#000080" stroke-width="1.1"/>
<line x1="508.6" y1="705.55" x2="524.9" y2="705.55" stroke="#000080" stroke-width="1.6"/>
<text x="536" y="688.3" class="lg">GenTree</text>
<text x="536" y="712.6" class="lg">XyloDensMap</text>
</svg>
</body></html>
